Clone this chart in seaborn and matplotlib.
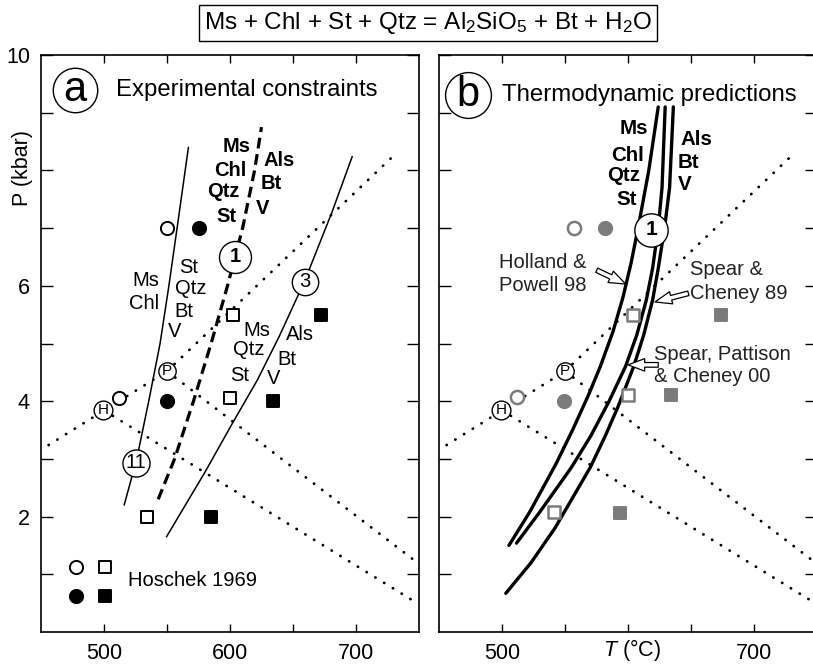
import matplotlib
matplotlib.use("Agg")
import matplotlib.pyplot as plt
import seaborn as sns

sns.set_theme(style="white")
plt.rcParams['font.family'] = ['Liberation Sans', 'DejaVu Sans']
plt.rcParams['mathtext.fontset'] = 'custom'
plt.rcParams['mathtext.rm'] = 'Liberation Sans'
plt.rcParams['mathtext.it'] = 'Liberation Sans:italic'
plt.rcParams['mathtext.bf'] = 'Liberation Sans:bold'
for k in ['axes.edgecolor', 'xtick.color', 'ytick.color', 'text.color', 'axes.labelcolor']:
    plt.rcParams[k] = 'black'

# Al2SiO5 phase boundaries (T in degC, P in kbar)
and_ky_T = [456, 550]
and_ky_P = [3.24, 4.52]
ky_sil_T = [550, 733]
ky_sil_P = [4.52, 8.32]
and_sil_H_T = [500, 747]
and_sil_H_P = [3.84, 0.52]
and_sil_P_T = [550, 747]
and_sil_P_P = [4.52, 1.23]

# (a) experimental reaction curves
rxn11_P = [2.2, 3.0, 4.0, 5.0, 6.0, 7.0, 8.4]
rxn11_T = [516, 526, 535.5, 544.5, 551.5, 558, 567]
rxn1_P = [2.3, 3.0, 4.0, 5.0, 6.0, 7.0, 8.0, 8.75]
rxn1_T = [543, 556, 571, 585, 598, 610, 619.5, 625]
rxn3_P = [1.65, 2.75, 3.62, 4.37, 5.12, 6.07, 7.28, 8.24]
rxn3_T = [549.6, 579.6, 602, 621.8, 639, 659, 681, 697]

# (b) thermodynamic predictions
hp98_P = [1.5, 2.08, 2.92, 3.5, 4.1, 4.6, 5.2, 5.8, 6.4, 7.0, 8.0, 9.1]
hp98_T = [505.5, 522, 543, 556, 568.5, 578, 588, 596, 602.5, 608, 616.5, 624]
spc00_P = [1.54, 2.08, 2.85, 3.4, 4.0, 4.6, 5.15, 5.75, 6.3, 7.0, 7.7, 9.1]
spc00_T = [511.5, 530, 555, 570.5, 585, 598, 607, 614.5, 619.5, 624, 627, 629.5]
sc89_P = [0.67, 1.2, 1.8, 2.4, 2.85, 3.4, 3.9, 4.6, 5.15, 5.75, 6.3, 7.0, 7.7, 9.1]
sc89_T = [503, 523, 542, 558, 570, 582, 592, 604.5, 612.5, 619.5, 624, 629, 633, 636]

# Hoschek 1969 experiments as drawn in (a)
a_open_circ_T, a_open_circ_P = [550, 512], [7.0, 4.05]
a_fill_circ_T, a_fill_circ_P = [575, 550], [7.0, 4.0]
a_open_sq_T, a_open_sq_P = [602, 600, 534], [5.5, 4.05, 2.0]
a_fill_sq_T, a_fill_sq_P = [672, 634, 585], [5.5, 4.0, 2.0]
# ... and as drawn in (b)
b_open_circ_T, b_open_circ_P = [557, 512], [7.0, 4.07]
b_fill_circ_T, b_fill_circ_P = [582, 549], [7.0, 4.0]
b_open_sq_T, b_open_sq_P = [604, 600, 541], [5.5, 4.1, 2.08]
b_fill_sq_T, b_fill_sq_P = [674, 634, 594], [5.5, 4.1, 2.06]
# legend keys
key_T = [478, 500.6]
key_open_P = 1.13
key_fill_P = 0.62

GRAY = '#7b7b7b'
DOT = dict(color='black', lw=2.0, linestyle=(0, (0.1, 3.6)), dash_capstyle='round')


def line(ax, T, P, **kw):
    sns.lineplot(x=T, y=P, sort=False, estimator=None, ax=ax, **kw)


def pts(ax, T, P, marker, fc, ec, size, lw=1.4):
    sns.scatterplot(x=T, y=P, marker=marker, s=size ** 2, facecolor=fc,
                    edgecolor=ec, linewidth=lw, ax=ax, zorder=5, legend=False)


def ring(ax, T, P, text, ms, fs, weight='normal'):
    ax.plot([T], [P], marker='o', ms=ms, mfc='white', mec='black', mew=1.0,
            ls='none', zorder=6)
    ax.text(T, P, text, ha='center', va='center', fontsize=fs,
            fontweight=weight, zorder=7)


def al2sio5(ax):
    for T, P in [(and_ky_T, and_ky_P), (ky_sil_T, ky_sil_P),
                 (and_sil_H_T, and_sil_H_P), (and_sil_P_T, and_sil_P_P)]:
        line(ax, T, P, **DOT)
    ring(ax, 550, 4.52, 'P', 12.5, 11)
    ring(ax, 499.5, 3.84, 'H', 13.5, 11)


def frame(ax, xlabels):
    ax.set_xlim(450, 750)
    ax.set_ylim(0, 10)
    ax.set_xticks([500, 550, 600, 650, 700])
    ax.set_xticklabels(xlabels)
    ax.set_yticks(range(1, 11))
    ax.tick_params(axis='x', direction='in', length=5.5, width=1,
                   top=True, bottom=True, pad=8, labelsize=15.5)
    ax.tick_params(axis='y', direction='in', length=8.5, width=1,
                   left=True, right=True, pad=8, labelsize=15.5)
    for s in ax.spines.values():
        s.set_linewidth(1.2)
        s.set_color('black')
    ax.set_xlabel('')
    ax.set_ylabel('')


fig = plt.figure(figsize=(8.13, 6.70), dpi=100)
ax_a = fig.add_axes([41 / 813, 38 / 670, 378 / 813, 577 / 670])
ax_b = fig.add_axes([439 / 813, 38 / 670, 378 / 813, 577 / 670])

# ---------------- (a) ----------------
ax = ax_a
al2sio5(ax)
line(ax, rxn11_T, rxn11_P, color='black', lw=1.1)
line(ax, rxn3_T, rxn3_P, color='black', lw=1.1)
line(ax, rxn1_T, rxn1_P, color='black', lw=2.3, linestyle=(0, (3.4, 1.8)))

pts(ax, a_open_circ_T, a_open_circ_P, 'o', 'white', 'black', 9.5)
pts(ax, a_fill_circ_T, a_fill_circ_P, 'o', 'black', 'black', 9.5)
pts(ax, a_open_sq_T, a_open_sq_P, 's', 'white', 'black', 9.0)
pts(ax, a_fill_sq_T, a_fill_sq_P, 's', 'black', 'black', 8.6)
pts(ax, [key_T[0]], [key_open_P], 'o', 'white', 'black', 9.5)
pts(ax, [key_T[1]], [key_open_P], 's', 'white', 'black', 9.0)
pts(ax, [key_T[0]], [key_fill_P], 'o', 'black', 'black', 9.5)
pts(ax, [key_T[1]], [key_fill_P], 's', 'black', 'black', 8.6)
ax.text(519, 0.9, 'Hoschek 1969', fontsize=14.5, va='center')

ring(ax, 477, 9.39, 'a', 32, 30)
ax.text(509.5, 9.39, 'Experimental constraints', fontsize=17.2, va='center')
ring(ax, 604, 6.5, '1', 23, 14.5, 'bold')
ring(ax, 659.2, 6.07, '3', 19, 14.5)
ring(ax, 525.6, 2.93, '11', 19.5, 14.5)

for txt, T, P in [('Ms', 544, 6.1), ('Chl', 544, 5.7)]:
    ax.text(T, P, txt, fontsize=14.5, ha='right', va='center')
for txt, T, P in [('St', 560, 6.31), ('Qtz', 556.7, 5.96), ('Bt', 556, 5.55), ('V', 550.4, 5.2)]:
    ax.text(T, P, txt, fontsize=14.5, ha='left', va='center')
for txt, T, P in [('Ms', 616.6, 8.41), ('Chl', 612.6, 7.99), ('Qtz', 607.3, 7.63), ('St', 604.7, 7.2)]:
    ax.text(T, P, txt, fontsize=14.5, ha='right', va='center', fontweight='bold')
for txt, T, P in [('Als', 626.5, 8.18), ('Bt', 624.5, 7.78), ('V', 620.5, 7.34)]:
    ax.text(T, P, txt, fontsize=14.5, ha='left', va='center', fontweight='bold')
for txt, T, P in [('Ms', 632.3, 5.23), ('Qtz', 627, 4.89), ('St', 615.2, 4.45)]:
    ax.text(T, P, txt, fontsize=14.5, ha='right', va='center')
for txt, T, P in [('Als', 644.2, 5.15), ('Bt', 637.6, 4.73), ('V', 628.9, 4.4)]:
    ax.text(T, P, txt, fontsize=14.5, ha='left', va='center')

frame(ax, ['500', '', '600', '', '700'])
ax.set_yticklabels(['', '2', '', '4', '', '6', '', '', '', '10'])
ax.set_ylabel('P (kbar)', fontsize=15.5)
ax.yaxis.set_label_coords(-0.02, 0.805)

# ---------------- (b) ----------------
ax = ax_b
al2sio5(ax)
for T, P in [(hp98_T, hp98_P), (spc00_T, spc00_P), (sc89_T, sc89_P)]:
    line(ax, T, P, color='black', lw=2.4)

pts(ax, b_open_circ_T, b_open_circ_P, 'o', 'white', GRAY, 9.5, 1.8)
pts(ax, b_fill_circ_T, b_fill_circ_P, 'o', GRAY, GRAY, 9.5)
pts(ax, b_open_sq_T, b_open_sq_P, 's', 'white', GRAY, 9.0, 1.8)
pts(ax, b_fill_sq_T, b_fill_sq_P, 's', GRAY, GRAY, 8.6)

ring(ax, 473, 9.31, 'b', 33, 30)
ax.text(500, 9.31, 'Thermodynamic predictions', fontsize=17.3, va='center')
ring(ax, 618.3, 6.97, '1', 24, 15, 'bold')

for txt, T, P in [('Ms', 616.1, 8.73), ('Chl', 612.9, 8.26), ('Qtz', 609.5, 7.92), ('St', 606.9, 7.49)]:
    ax.text(T, P, txt, fontsize=14.8, ha='right', va='center', fontweight='bold')
for txt, T, P in [('Als', 641.3, 8.54), ('Bt', 639.4, 8.13), ('V', 639.4, 7.75)]:
    ax.text(T, P, txt, fontsize=14.8, ha='left', va='center', fontweight='bold')

arrow = dict(arrowstyle='simple,head_length=1.0,head_width=0.75,tail_width=0.28',
             fc='white', ec='black', lw=0.9, shrinkA=0, shrinkB=0)
ax.annotate('Holland &\nPowell 98', xy=(598.2, 6.03), xytext=(532.2, 6.2),
            fontsize=14.5, color='#222222', ha='center', va='center',
            linespacing=1.25)
ax.annotate('', xy=(598.2, 6.03), xytext=(575.2, 6.27), arrowprops=arrow)
ax.annotate('Spear &\nCheney 89', xy=(621.4, 5.72), xytext=(649.2, 6.08),
            fontsize=14.5, color='#222222', ha='left', va='center',
            linespacing=1.35)
ax.annotate('', xy=(621.4, 5.72), xytext=(647.9, 5.87), arrowprops=arrow)
ax.annotate('Spear, Pattison\n& Cheney 00', xy=(600, 4.63), xytext=(620.6, 4.62),
            fontsize=14.5, color='#222222', ha='left', va='center',
            linespacing=1.2)
ax.annotate('', xy=(600, 4.63), xytext=(624, 4.63), arrowprops=arrow)

frame(ax, ['500', '', '', '', '700'])
ax.set_yticklabels([])
ax.set_xlabel('$T$ (°C)', fontsize=15.5)
ax.xaxis.set_label_coords(0.511, -0.009)

fig.text(0.526, 0.966, 'Ms + Chl + St + Qtz = Al$_2$SiO$_5$ + Bt + H$_2$O',
         fontsize=17.5, ha='center', va='center',
         bbox=dict(boxstyle='square,pad=0.2', fc='white', ec='black', lw=1.0))

fig.savefig('out.png', dpi=100)
